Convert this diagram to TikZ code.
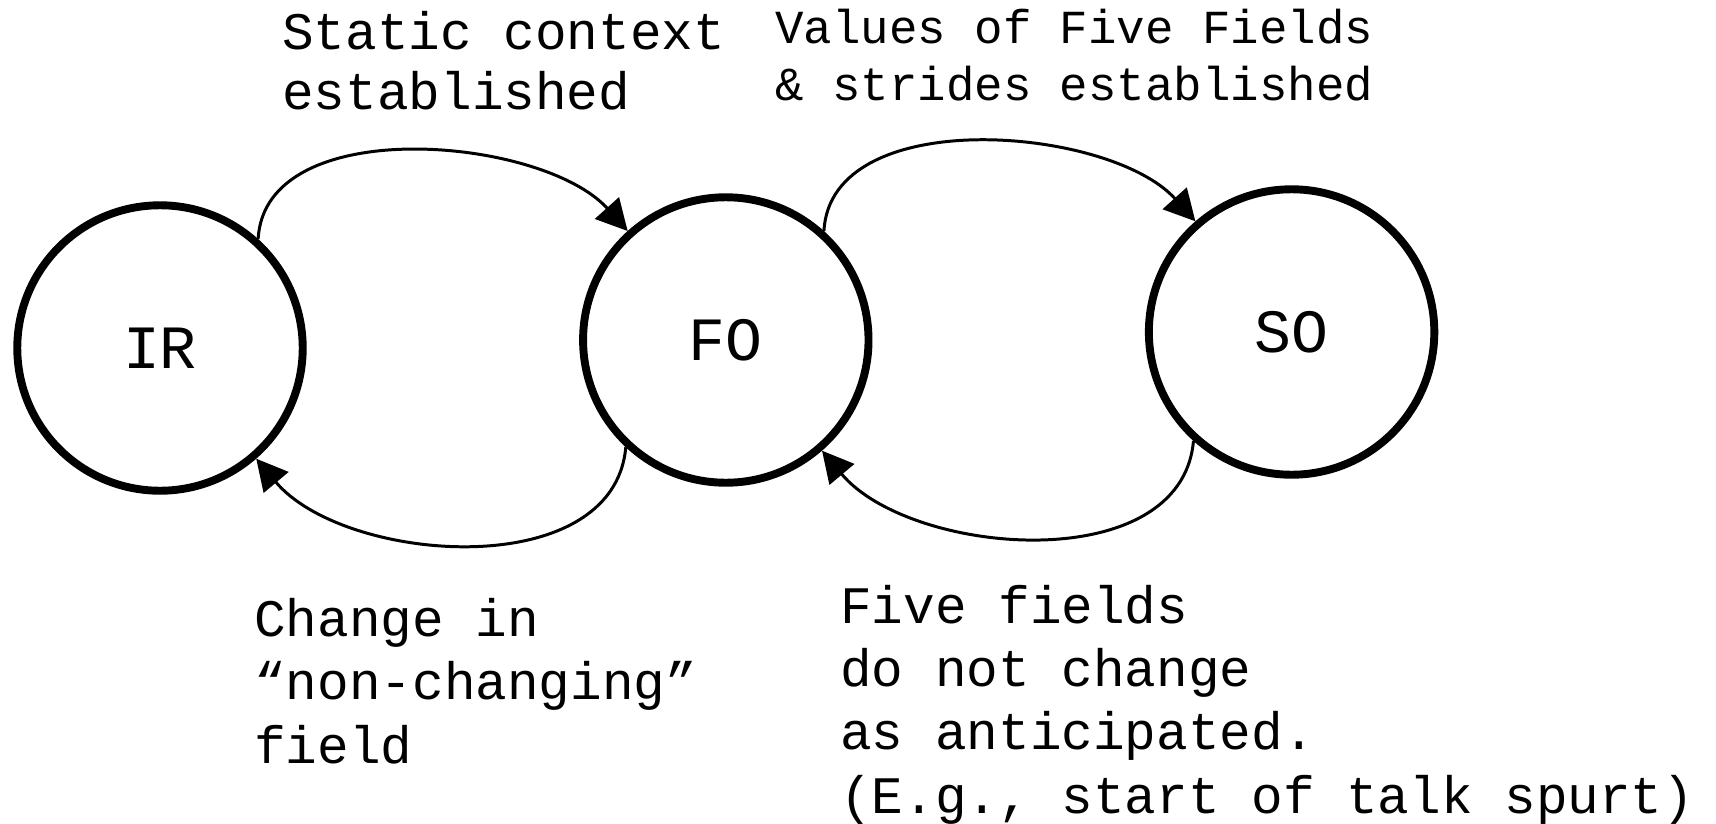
\documentclass[tikz,border=0pt]{standalone}
\usepackage{fontspec}
\setmonofont{Liberation Mono}
\usetikzlibrary{arrows.meta,positioning}

\begin{document}
\begin{tikzpicture}[x=0.02cm,y=-0.02cm,node distance=5.45cm,
    state/.style={circle,draw,line width=4.5pt,minimum size=5.71cm,inner sep=0pt,
                  font=\ttfamily\fontsize{35}{40}\selectfont},
    lbl/.style={anchor=base west,align=left,inner sep=0pt,
                font=\ttfamily\fontsize{30}{36}\selectfont},
    arr/.style={-{Triangle[length=0.62cm,width=0.64cm]},line width=1.7pt}]
  \useasboundingbox (0,0) rectangle (1716,824);
  \node[state] (ir) at (160,348) {IR};
  \node[state,right=of ir,yshift=0.16cm] (fo) {FO};
  \node[state,right=of fo,yshift=0.16cm] (so) {SO};
  % forward transitions
  \draw[arr] (ir.48) to[out=87,in=132,looseness=0.88] (fo.132);
  \draw[arr] (fo.48) to[out=87,in=132,looseness=0.88] (so.131);
  % falling back
  \draw[arr] (fo.227) to[out=-95,in=-50,looseness=0.95] (ir.311);
  \draw[arr] (so.228) to[out=-95,in=-50,looseness=0.95] (fo.311);
  % labels (anchored on the baseline of their last line)
  \node[lbl,font=\ttfamily\fontsize{30}{34.6}\selectfont] (static) at (282,110) {Static context\\established};
  \node[lbl,font=\ttfamily\fontsize{27}{32.9}\selectfont] (values) at (775,101) {Values of Five Fields\\\& strides established};
  \node[lbl] (change) at (254,763) {Change in\\“non-changing”\\field};
  \node[lbl] (five) at (840,813) {Five fields\\do not change\\as anticipated.\\(E.g., start of talk spurt)};
\end{tikzpicture}
\end{document}
